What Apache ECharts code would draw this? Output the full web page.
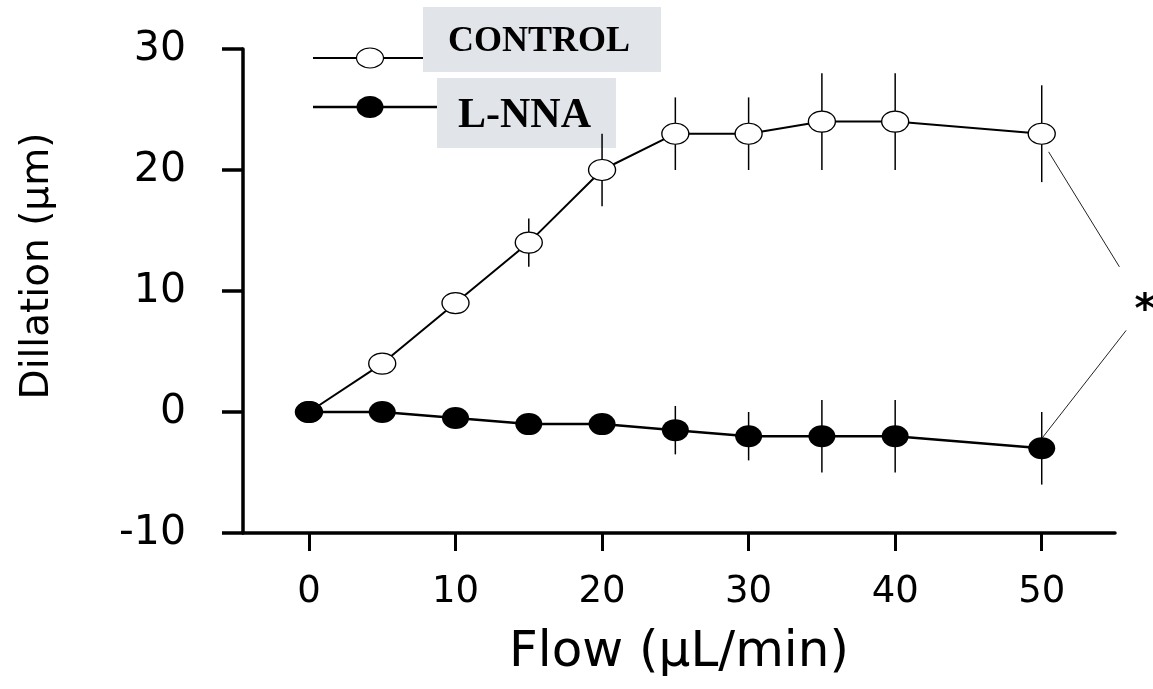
<!DOCTYPE html>
<html>
<head>
<meta charset="utf-8">
<title>Dilation vs flow</title>
<script src="https://cdn.jsdelivr.net/npm/echarts@6/dist/echarts.min.js"></script>
<style>
  html, body { margin: 0; padding: 0; background: #fff; }
  #chart { width: 1153px; height: 689px; }
</style>
</head>
<body>
<div id="chart"></div>
<script>
"use strict";

/* ---------- data ---------- */
const flow       = [0, 5, 10, 15, 20, 25, 30, 35, 40, 50];
const control    = [0, 4, 9, 14, 20, 23, 23, 24, 24, 23];
const controlErr = [0, 0.5, 0.5, 2, 3, 3, 3, 4, 4, 4];
const lnna       = [0, 0, -0.5, -1, -1, -1.5, -2, -2, -2, -3];
const lnnaErr    = [0, 0.5, 0.8, 0.8, 0.8, 2, 2, 3, 3, 3];

const xTicks = [0, 10, 20, 30, 40, 50];
const seriesNames = ["CONTROL", "L-NNA"];

// significance bracket between the two curves at 50 µL/min (axis units)
const bracketUpper = [[50.47, 21.5], [55.3, 12.0]];
const bracketLower = [[55.76, 6.74], [50.06, -2.1]];
const starAt = [57.05, 8.3];

/* ---------- style ---------- */
const SANS = '"DejaVu Sans", Arial, sans-serif';
const SERIF = '"Liberation Serif", "Times New Roman", serif';
const INK = "#000";
const BOX = "#e1e5ea";
const ELLIPSE = "path://M0,10A10,10 0 1,1 20,10A10,10 0 1,1 0,10Z";

function pairs(ys) { return flow.map((x, i) => [x, ys[i]]); }
function triples(ys, es) { return flow.map((x, i) => [x, ys[i], es[i]]); }

// vertical error bar, no caps
function errorBar(params, api) {
    const x = api.value(0), y = api.value(1), e = api.value(2);
    const a = api.coord([x, y - e]), b = api.coord([x, y + e]);
    return {
        type: "line",
        shape: { x1: a[0], y1: a[1], x2: b[0], y2: b[1] },
        style: { stroke: INK, lineWidth: 1.5 }
    };
}

const chart = echarts.init(document.getElementById("chart"));

chart.setOption({
    animation: false,
    backgroundColor: "#fff",
    textStyle: { fontFamily: SANS, color: INK },
    grid: { left: 243, right: 38, top: 49, bottom: 156, outerBoundsMode: "none" },
    xAxis: {
        type: "value", min: -4.5, max: 55,
        name: "Flow (µL/min)", nameLocation: "middle", nameGap: 95,
        nameTextStyle: { fontFamily: SANS, fontSize: 50, color: INK },
        axisLine: { onZero: false, lineStyle: { color: INK, width: 3.5 } },
        axisTick: { customValues: xTicks, length: 18, lineStyle: { color: INK, width: 3 } },
        axisLabel: { customValues: xTicks, margin: 41, fontSize: 37, color: INK, fontFamily: SANS },
        splitLine: { show: false }
    },
    yAxis: {
        type: "value", min: -10, max: 30, interval: 10,
        name: "Dillation (µm)", nameLocation: "middle", nameGap: 186,
        nameTextStyle: { fontFamily: SANS, fontSize: 39, color: INK, padding: [0, 0, 0, 50] },
        axisLine: { onZero: false, lineStyle: { color: INK, width: 3.5 } },
        axisTick: { length: 21, lineStyle: { color: INK, width: 3.5 } },
        axisLabel: { margin: 57, fontSize: 41, color: INK, fontFamily: SANS },
        splitLine: { show: false }
    },
    series: [
        {
            type: "custom", name: "CONTROL err", z: 1, silent: true,
            renderItem: errorBar, encode: { x: 0, y: 1 },
            data: triples(control, controlErr)
        },
        {
            type: "custom", name: "L-NNA err", z: 1, silent: true,
            renderItem: errorBar, encode: { x: 0, y: 1 },
            data: triples(lnna, lnnaErr)
        },
        {
            type: "line", name: seriesNames[0], z: 3, silent: true,
            symbol: ELLIPSE, symbolSize: [27, 21],
            lineStyle: { color: INK, width: 2 },
            itemStyle: { color: "#fff", borderColor: INK, borderWidth: 1.2 },
            data: pairs(control)
        },
        {
            type: "line", name: seriesNames[1], z: 4, silent: true,
            symbol: ELLIPSE, symbolSize: [27, 22],
            lineStyle: { color: INK, width: 2.5 },
            itemStyle: { color: INK, borderColor: INK, borderWidth: 0 },
            data: pairs(lnna)
        }
    ]
});

// bracket + asterisk sit outside the plot range, so place them through the axes by hand
const px = pt => chart.convertToPixel({ gridIndex: 0 }, pt);
const seg = (a, b) => {
    const p = px(a), q = px(b);
    return { type: "line", silent: true, shape: { x1: p[0], y1: p[1], x2: q[0], y2: q[1] },
             style: { stroke: "#222", lineWidth: 1 } };
};
const star = px(starAt);

chart.setOption({
    graphic: [
        seg(bracketUpper[0], bracketUpper[1]),
        seg(bracketLower[0], bracketLower[1]),
        { type: "text", x: star[0], y: star[1], silent: true,
          style: { text: "*", font: "bold 40px " + SANS, fill: INK, align: "center", verticalAlign: "middle" } },

        // legend drawn by hand: line + marker, then label on a grey box
        { type: "line", shape: { x1: 313, y1: 58, x2: 423, y2: 58 }, style: { stroke: INK, lineWidth: 2 } },
        { type: "ellipse", shape: { cx: 370, cy: 58, rx: 13.5, ry: 10 }, style: { fill: "#fff", stroke: INK, lineWidth: 1.2 } },
        { type: "rect", shape: { x: 423, y: 7, width: 238, height: 65 }, style: { fill: BOX } },
        { type: "text", x: 448, y: 42, style: { text: seriesNames[0], font: "bold 36px " + SERIF, fill: INK, verticalAlign: "middle" } },

        { type: "line", shape: { x1: 313, y1: 107, x2: 437, y2: 107 }, style: { stroke: INK, lineWidth: 2.5 } },
        { type: "ellipse", shape: { cx: 370, cy: 107, rx: 13.5, ry: 11 }, style: { fill: INK } },
        { type: "rect", shape: { x: 437, y: 78, width: 179, height: 70 }, style: { fill: BOX } },
        { type: "text", x: 458, y: 116, style: { text: seriesNames[1], font: "bold 42px " + SERIF, fill: INK, verticalAlign: "middle" } }
    ]
});
</script>
</body>
</html>
